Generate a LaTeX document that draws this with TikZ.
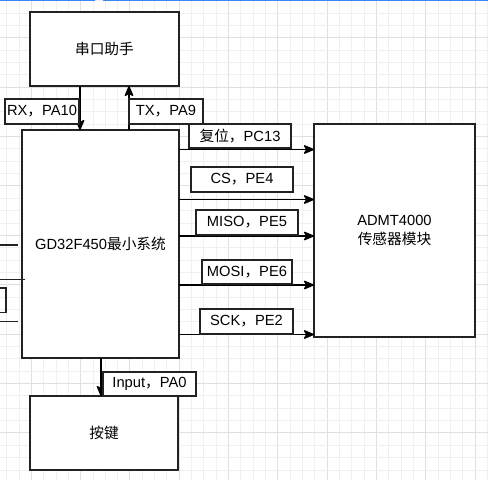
\documentclass[tikz,border=0pt]{standalone}
\usepackage{fontspec}
\setmainfont{Liberation Sans}
\newfontfamily\cjk{Noto Sans CJK SC}
\usetikzlibrary{arrows.meta}
\definecolor{gridminor}{HTML}{F0F0F0}
\definecolor{gridmajor}{HTML}{E0E0E0}
\definecolor{topblue}{HTML}{3F86F2}
\definecolor{edge}{HTML}{222222}
\begin{document}
\begin{tikzpicture}[x=1pt,y=-1pt,
  font=\fontsize{14.7}{18.3}\selectfont,
  box/.style={draw=edge, line width=1.4pt, fill=white, inner sep=0pt, outer sep=0pt, align=center},
  lbl/.style={draw=edge, line width=1.3pt, fill=white, inner sep=0pt, outer sep=0pt},
  arr/.style={draw=black, line width=1.3pt, -{Stealth[length=12pt 0 0,width=10pt 0 0,inset=3pt 0,round]}},
  stub/.style={draw=edge, line width=1.3pt}]
% background
\fill[white] (0,0) rectangle (488,480);
\useasboundingbox (0,0) rectangle (488,480);
% grid
\foreach \k in {-2,...,37}{
  \pgfmathsetmacro{\gx}{31.3+12.33*\k}
  \pgfmathtruncatemacro{\gm}{mod(\k+400,4)}
  \ifnum\gm=0 \draw[gridmajor, line width=0.9pt] (\gx,0) -- (\gx,480);
  \else \draw[gridminor, line width=0.9pt] (\gx,0) -- (\gx,480); \fi
}
\foreach \k in {-3,...,36}{
  \pgfmathsetmacro{\gy}{37.7+12.35*\k}
  \pgfmathtruncatemacro{\gm}{mod(\k+400,4)}
  \ifnum\gm=0 \draw[gridmajor, line width=0.9pt] (0,\gy) -- (488,\gy);
  \else \draw[gridminor, line width=0.9pt] (0,\gy) -- (488,\gy); \fi
}
% top blue line
\fill[topblue] (0,0) rectangle (95,1.3);
\fill[topblue] (102.5,0) rectangle (488,1.3);
% main boxes
\node[box, minimum width=149pt, minimum height=74pt] (uart) at (104.5,49) {\cjk 串口助手};
\node[box, minimum width=157pt, minimum height=228pt] (gd) at (100.5,244) {GD32F450{\cjk 最小系统}};
\node[box, minimum width=161pt, minimum height=213pt] (admt) at (394.5,230.5) {ADMT4000\\{\cjk 传感器模块}};
\node[box, minimum width=148pt, minimum height=74pt] (key) at (104,433) {\cjk 按键};
% partial shapes at the left edge
\draw[stub] (0,245) -- (18,245);
\draw[stub] (0,279.5) -- (25,279.5);
\draw[stub] (-2,288) rectangle (6,312.7);
\draw[stub] (0,321.7) -- (18,321.7);
% helper coordinates
\coordinate (xrx) at (80,0);
\coordinate (xtx) at (129,0);
\coordinate (xin) at (101,0);
\coordinate (yrst) at (0,149.5);
\coordinate (ycs) at (0,199.5);
\coordinate (ymiso) at (0,236);
\coordinate (ymosi) at (0,285);
\coordinate (ysck) at (0,334.5);
% connectors
\draw[arr] (uart.south -| xrx) -- (gd.north -| xrx);
\draw[arr] (gd.north -| xtx) -- (uart.south -| xtx);
\draw[arr] (gd.east |- yrst) -- (admt.west |- yrst);
\draw[arr] (gd.east |- ycs) -- (admt.west |- ycs);
\draw[arr] (gd.east |- ymiso) -- (admt.west |- ymiso);
\draw[arr] (gd.east |- ymosi) -- (admt.west |- ymosi);
\draw[arr] (gd.east |- ysck) -- (admt.west |- ysck);
\draw[arr] (gd.south -| xin) -- (key.north -| xin);
% labels
\node[lbl, minimum width=74pt, minimum height=25pt] (lrx) at (42,111.5) {RX{\cjk ，}PA10};
\node[lbl, minimum width=74pt, minimum height=25pt] (ltx) at (166,111.5) {TX{\cjk ，}PA9};
\node[lbl, minimum width=102pt, minimum height=24pt] (lrst) at (240,136) {{\cjk 复位，}PC13};
\node[lbl, minimum width=102pt, minimum height=25pt] (lcs) at (242,179.5) {CS{\cjk ，}PE4};
\node[lbl, minimum width=102pt, minimum height=25pt] (lmiso) at (247,222.5) {MISO{\cjk ，}PE5};
\node[lbl, minimum width=90pt, minimum height=24pt] (lmosi) at (247,272) {MOSI{\cjk ，}PE6};
\node[lbl, minimum width=93pt, minimum height=25pt] (lsck) at (246.5,321.5) {SCK{\cjk ，}PE2};
\node[lbl, minimum width=93pt, minimum height=24pt] (linput) at (149.5,384) {Input{\cjk ，}PA0};
\end{tikzpicture}
\end{document}
